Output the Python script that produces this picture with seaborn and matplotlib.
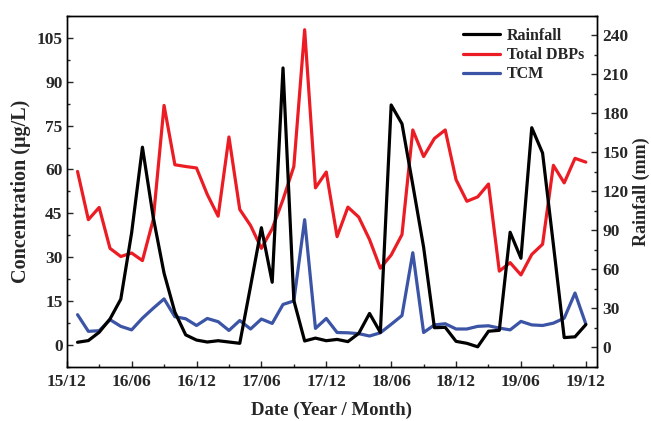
import numpy as np
import pandas as pd
import matplotlib
matplotlib.use("Agg")
import matplotlib.pyplot as plt
from matplotlib.ticker import MultipleLocator, FixedLocator
import seaborn as sns

# Monthly series, 2016/01 .. 2019/12 (month index 1..48, 0 = 2015/12)
rainfall_mm = [3.8, 5.1, 11.5, 21.7, 37, 88, 154, 100, 57, 27, 9.5, 5.5,
               4, 5, 4, 3, 47, 92, 50, 215, 36, 4.8, 7, 5,
               6, 4.3, 10.6, 26, 11.4, 186.5, 172, 125, 77, 15, 15.3, 4.5,
               3, 0.3, 12.3, 13, 88.5, 68.5, 169, 149.5, 79, 7.4, 8, 17.4]
total_dbps = [59.3, 42.8, 47.0, 33.0, 30.2, 31.4, 28.8, 42.8, 81.9, 61.6, 61.0, 60.5,
              51.4, 44.0, 71.1, 46.3, 40.8, 33.0, 39.7, 49.7, 61.0, 107.8, 53.7, 59.1,
              37.0, 47.1, 43.7, 36.0, 26.2, 30.7, 37.7, 73.5, 64.4, 70.6, 73.5, 56.5,
              49.1, 50.6, 55.0, 25.2, 28.1, 23.9, 30.9, 34.4, 61.4, 55.4, 63.8, 62.5]
tcm = [10.3, 4.6, 4.8, 8.6, 6.3, 5.1, 9.1, 12.5, 15.7, 9.6, 8.9, 6.6,
       9.0, 7.9, 4.9, 8.3, 5.4, 8.8, 7.3, 13.8, 15.0, 42.8, 5.6, 9.0,
       4.2, 4.1, 3.8, 3.0, 4.1, 7.0, 10.0, 31.5, 4.2, 6.8, 7.2, 5.4,
       5.4, 6.3, 6.5, 5.7, 5.1, 8.0, 6.8, 6.6, 7.4, 9.1, 17.7, 7.1]
month_index = list(range(1, 49))

tick_labels = ["15/12", "16/06", "16/12", "17/06", "17/12",
               "18/06", "18/12", "19/06", "19/12"]

df = pd.DataFrame({"month": month_index, "rain": rainfall_mm,
                   "dbps": total_dbps, "tcm": tcm})

sns.set_style("white")
plt.rcParams["font.family"] = ["Liberation Serif", "DejaVu Serif"]
plt.rcParams["font.weight"] = "bold"
plt.rcParams["axes.labelweight"] = "bold"

fig = plt.figure(figsize=(6.51, 4.21), dpi=100)
ax = fig.add_axes([0.1025, 0.129, 0.814, 0.833])
ax2 = ax.twinx()

RED = "#EC1C24"
BLUE = "#3B54A5"
lw = 2.3

sns.lineplot(data=df, x="month", y="dbps", ax=ax, color=RED, lw=lw,
             label="Total DBPs", legend=False)
sns.lineplot(data=df, x="month", y="tcm", ax=ax, color=BLUE, lw=lw,
             label="TCM", legend=False)
sns.lineplot(data=df, x="month", y="rain", ax=ax2, color="black", lw=lw,
             label="Rainfall", legend=False)

ax.set_xlim(0, 49)
ax.set_ylim(-7.5, 112.5)
ax2.set_ylim(-15, 255)

ax.xaxis.set_major_locator(FixedLocator(np.arange(0, 49, 6)))
ax.set_xticklabels(tick_labels)
ax.xaxis.set_minor_locator(FixedLocator(np.arange(3, 49, 6)))
ax.yaxis.set_major_locator(MultipleLocator(15))
ax.yaxis.set_minor_locator(MultipleLocator(7.5))
ax2.yaxis.set_major_locator(MultipleLocator(30))
ax2.yaxis.set_minor_locator(MultipleLocator(15))

ax.tick_params(axis="y", which="major", direction="in", length=4.5, width=1,
               labelsize=12.5, pad=3, left=True)
ax.tick_params(axis="y", which="minor", direction="in", length=2.5, width=1, left=True)
ax.tick_params(axis="x", which="major", direction="in", length=4.5, width=1,
               labelsize=12.5, pad=5, bottom=True)
ax.tick_params(axis="x", which="minor", direction="in", length=2.5, width=1, bottom=True)
ax2.tick_params(axis="y", which="major", direction="in", length=4.5, width=1,
                labelsize=12.5, pad=4, right=True)
ax2.tick_params(axis="y", which="minor", direction="in", length=2.5, width=1, right=True)

for a in (ax, ax2):
    for s in a.spines.values():
        s.set_linewidth(1.0)
        s.set_color("black")
    for lab in a.get_xticklabels() + a.get_yticklabels():
        lab.set_fontweight("bold")

ax.set_xlabel("Date (Year / Month)", fontsize=13.5, fontweight="bold", labelpad=9)
ax.set_ylabel("Concentration (\u03bcg/L)", fontsize=14.5, fontweight="bold", labelpad=4)
ax2.set_ylabel("Rainfall (mm)", fontsize=13, fontweight="bold", labelpad=3)

h1, l1 = ax2.get_legend_handles_labels()
h2, l2 = ax.get_legend_handles_labels()
leg = ax2.legend(h1 + h2, l1 + l2, loc="upper left", bbox_to_anchor=(0.725, 1.0),
                 frameon=False, fontsize=11.5, handlelength=2.3,
                 handletextpad=0.45, labelspacing=0.2, borderpad=0.25)
for t in leg.get_texts():
    t.set_fontweight("bold")

fig.savefig("out.png", dpi=100)
